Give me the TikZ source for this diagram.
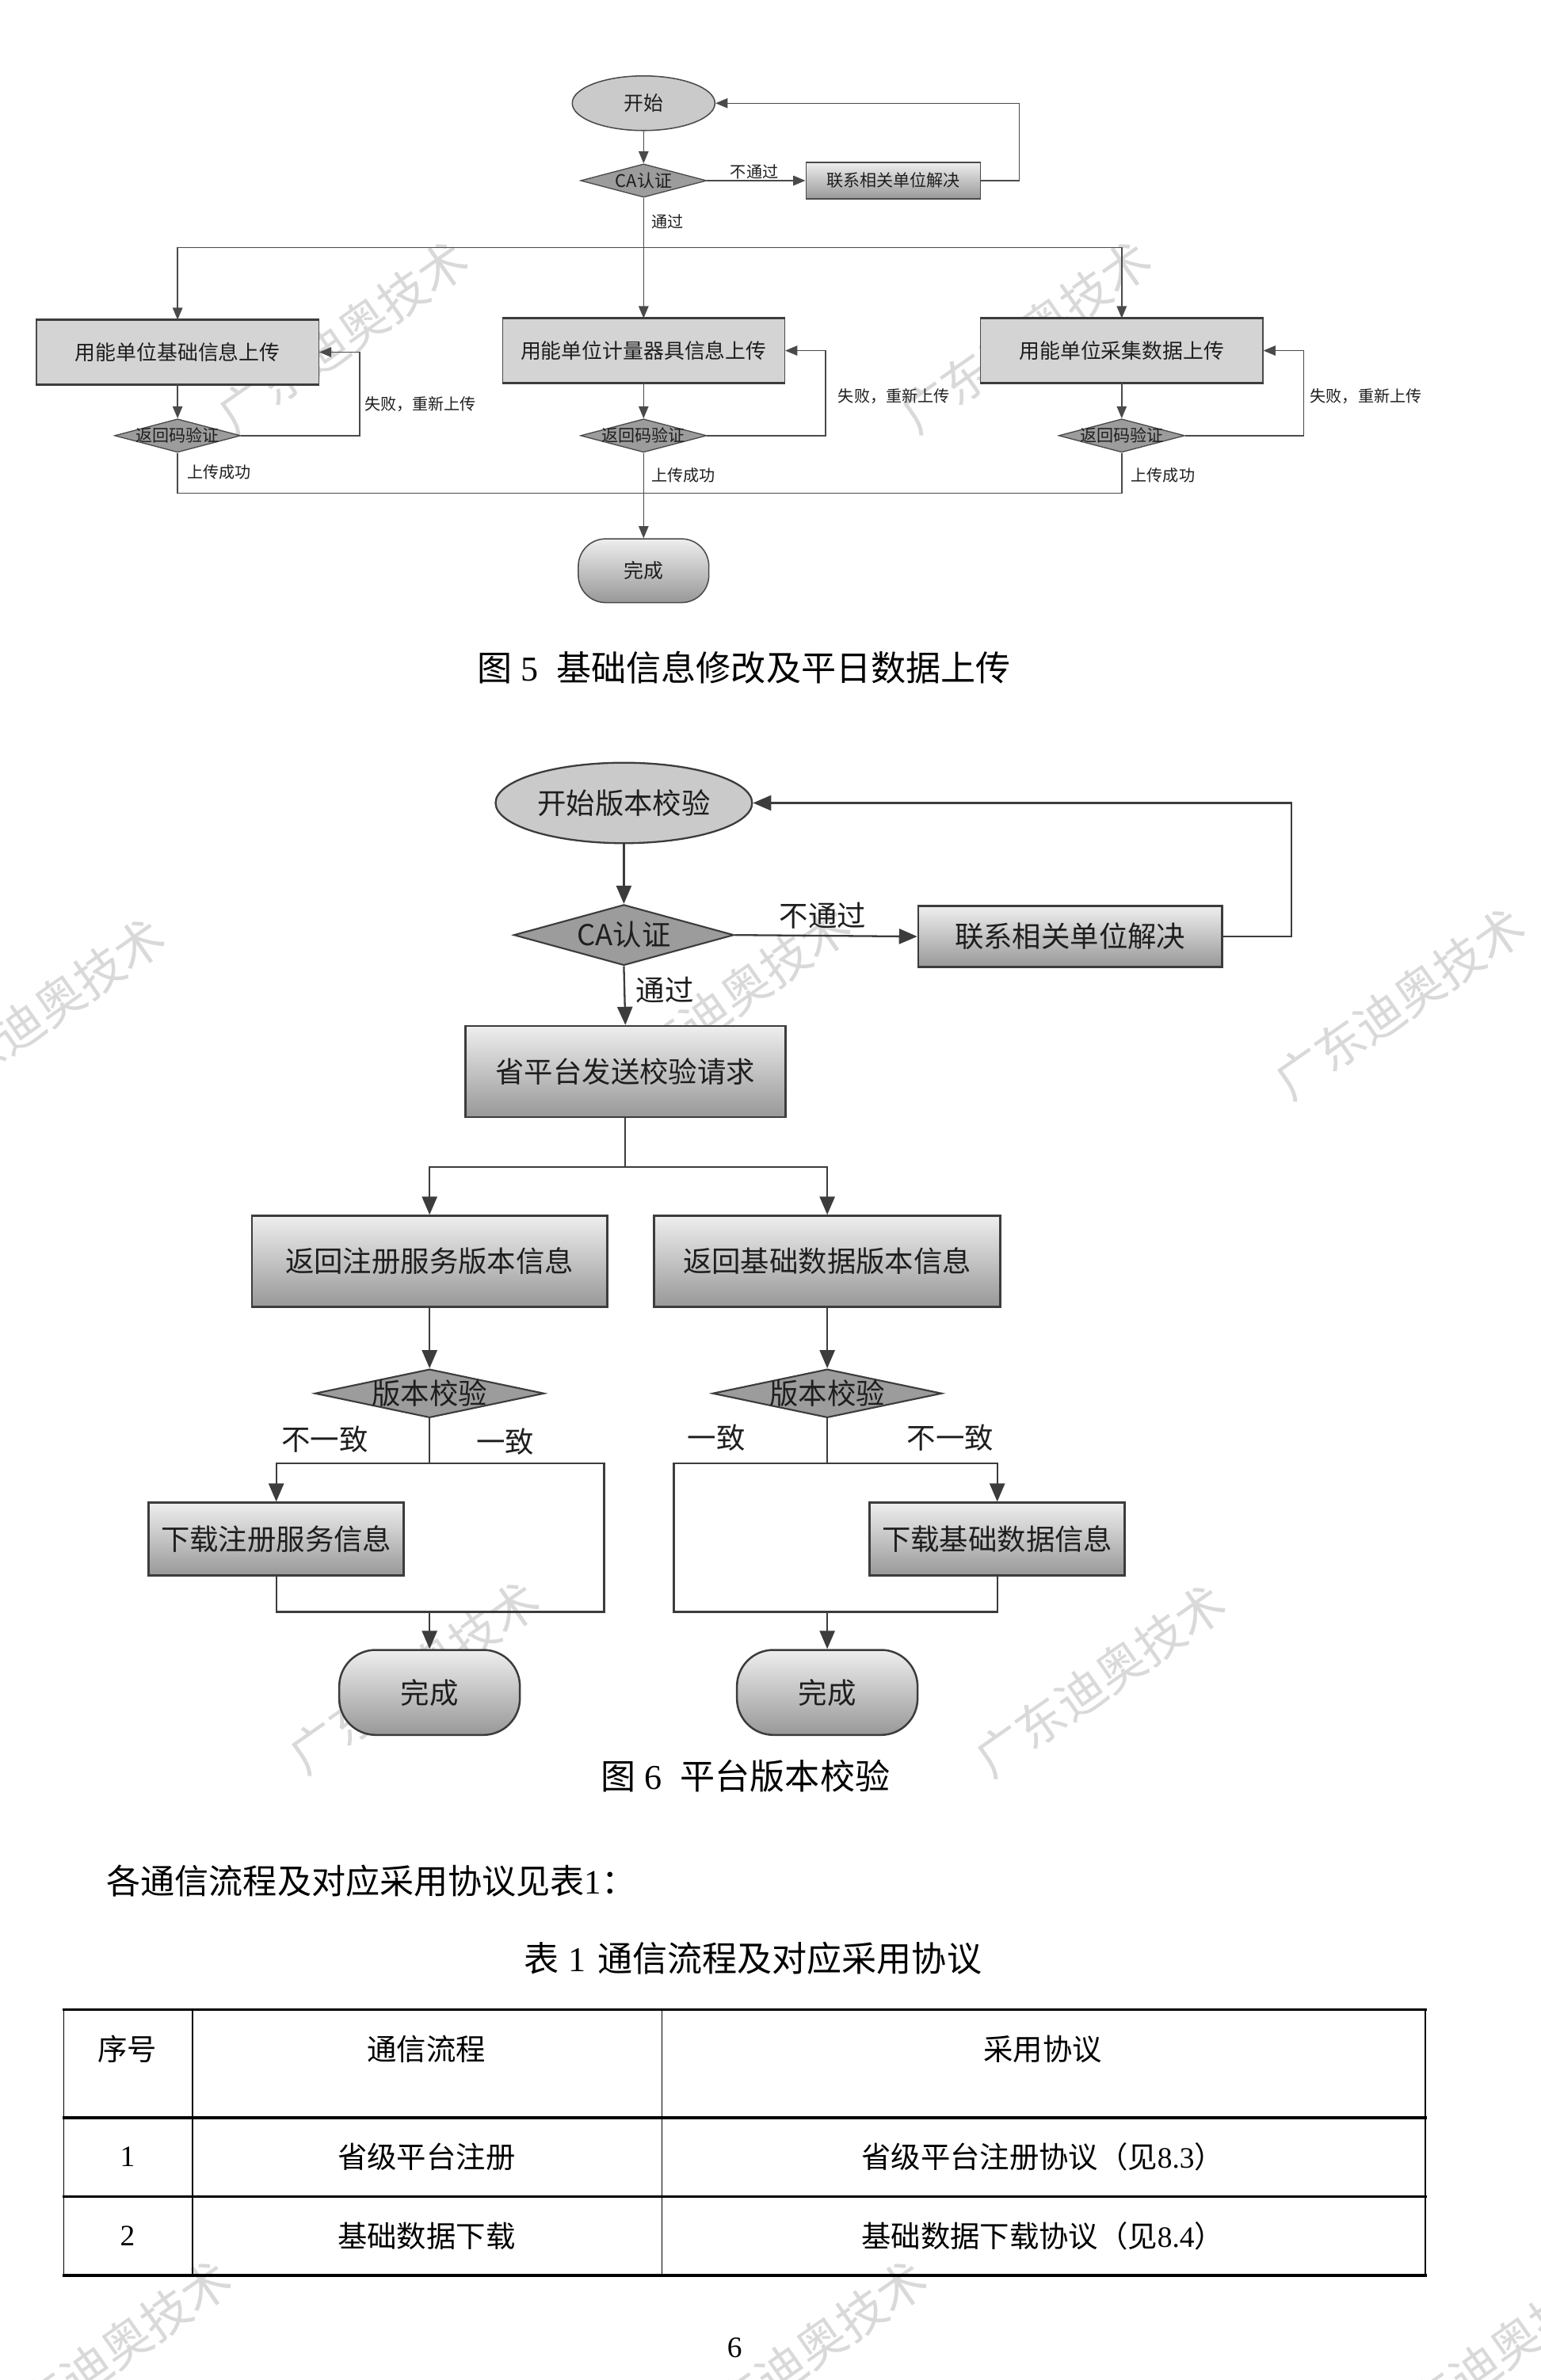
\documentclass[tikz,border=0pt]{standalone}
\usepackage{fontspec}
\setmainfont{Noto Sans CJK SC}
\newfontfamily\tms{Liberation Serif}
\usetikzlibrary{arrows.meta,shapes.geometric,shapes.misc}
\definecolor{lc}{HTML}{4A4A4A}
\definecolor{lc2}{HTML}{3C3C3C}
\definecolor{txt}{HTML}{1E1E1E}
\definecolor{boxtop}{HTML}{EEEEEE}
\definecolor{boxbot}{HTML}{989898}
\definecolor{diafill}{HTML}{9C9C9C}
\definecolor{ellfill}{HTML}{CACACA}
\definecolor{flatbox}{HTML}{D4D4D4}
\definecolor{wmc}{HTML}{D9D9D9}
\tikzset{
  a1/.style={draw=lc, line width=0.8pt, -{Triangle[length=8pt,width=6.5pt]}},
  l1/.style={draw=lc, line width=0.8pt},
  a2/.style={draw=lc2, line width=1.2pt, -{Triangle[length=12pt,width=10pt]}},
  l2/.style={draw=lc2, line width=1.2pt},
  t1/.style={text=txt, font=\fontsize{13.5}{15}\selectfont, inner sep=0pt},
  smalllbl/.style={text=txt, font=\fontsize{10.5}{12}\selectfont, inner sep=0pt},
  t2/.style={text=txt, font=\fontsize{19}{22}\selectfont, inner sep=0pt},
  ell1/.style={ellipse, draw=lc, line width=0.8pt, fill=ellfill, inner sep=0pt, minimum width=94pt, minimum height=36pt, text=txt, font=\fontsize{13}{15}\selectfont},
  dia1/.style={diamond, draw=lc, line width=0.7pt, fill=diafill, inner sep=0pt, minimum width=83pt, minimum height=22pt},
  fbox1/.style={rectangle, draw=lc, line width=0.6pt, fill=flatbox, inner sep=0pt, minimum width=186pt, minimum height=42pt, text=txt, font=\fontsize{13.5}{15}\selectfont},
  gbox1/.style={rectangle, draw=lc, line width=0.8pt, top color=boxtop, bottom color=boxbot, inner sep=0pt, text=txt, font=\fontsize{11}{13}\selectfont},
  term1/.style={rectangle, rounded corners=18pt, draw=lc, line width=0.8pt, top color=boxtop, bottom color=boxbot, inner sep=0pt, minimum width=86pt, minimum height=42pt, text=txt, font=\fontsize{13}{15}\selectfont},
  ell2/.style={ellipse, draw=lc2, line width=1.2pt, fill=ellfill, inner sep=0pt, minimum width=169pt, minimum height=53pt, text=txt, font=\fontsize{19}{22}\selectfont},
  dia2/.style={diamond, draw=lc2, line width=1.1pt, fill=diafill, inner sep=0pt},
  gbox2/.style={rectangle, draw=lc2, line width=1.4pt, top color=boxtop, bottom color=boxbot, inner sep=0pt, text=txt, font=\fontsize{19}{22}\selectfont},
  term2/.style={rectangle, rounded corners=24pt, draw=lc2, line width=1.3pt, top color=boxtop, bottom color=boxbot, inner sep=0pt, minimum width=119pt, minimum height=56pt, text=txt, font=\fontsize{19}{22}\selectfont},
  captxt/.style={text=black, font=\fontsize{23}{26}\selectfont, inner sep=0pt},
  bodytxt/.style={text=black, font=\fontsize{22.5}{26}\selectfont, inner sep=0pt},
  tbl/.style={text=black, font=\fontsize{19.5}{22}\selectfont, inner sep=0pt},
  wmk/.style={text=wmc, font=\fontsize{32}{34}\selectfont, inner sep=0pt, rotate=35},
}
\begin{document}
\begin{tikzpicture}[x=1pt,y=-1pt]
\useasboundingbox (0,0) rectangle (1015,1568);
\clip (0,0) rectangle (1015,1568);
\fill[white] (0,0) rectangle (1015,1568);

% ================= watermarks =================
\node[wmk] (w1) at (226,222) {广东迪奥技术};
\node[wmk] (w2) at (676,222) {广东迪奥技术};
\node[wmk] (w3) at (26,668) {广东迪奥技术};
\node[wmk] (w4) at (478,660) {广东迪奥技术};
\node[wmk] (w5) at (922,661) {广东迪奥技术};
\node[wmk] (w6) at (273,1105) {广东迪奥技术};
\node[wmk] (w7) at (725,1107) {广东迪奥技术};
\node[wmk] (w8) at (70,1552) {广东迪奥技术};
\node[wmk] (w9) at (528,1552) {广东迪奥技术};
\node[wmk] (w10) at (985,1552) {广东迪奥技术};

% ================= figure 5 =================
\node[ell1] (s1) at (424,68) {开始};
\node[dia1] (ca1) at (424,119) {};
\node[t1, font=\fontsize{11.5}{13}\selectfont] (ca1t) at (ca1) {CA认证};
\node[gbox1, minimum width=115pt, minimum height=24pt] (r1) at (588.5,119) {联系相关单位解决};

\node[fbox1] (b1) at (117,232) {用能单位基础信息上传};
\node[fbox1] (b2) at (424,231) {用能单位计量器具信息上传};
\node[fbox1] (b3) at (739,231) {用能单位采集数据上传};
\foreach \b in {b1,b2,b3}{
  \draw[draw=lc2, line width=1.8pt] (\b.north west) -- (\b.north east);
  \draw[draw=lc2, line width=1.8pt] (\b.south west) -- (\b.south east);
}
\node[dia1] (d1) at (117,287) {};
\node[dia1] (d2) at (424,287) {};
\node[dia1] (d3) at (739,287) {};
\node[t1, font=\fontsize{11}{13}\selectfont] (d1t) at (d1) {返回码验证};
\node[t1, font=\fontsize{11}{13}\selectfont] (d2t) at (d2) {返回码验证};
\node[t1, font=\fontsize{11}{13}\selectfont] (d3t) at (d3) {返回码验证};
\node[term1] (f1) at (424,376) {完成};

\draw[a1] (s1.south) -- (ca1.north);
\draw[a1] (ca1.east) -- (r1.west);
\node[smalllbl] (lb1) at (497,113) {不通过};
\draw[a1] (r1.east) -- ++(25,0) |- (s1.east);
\coordinate (h1) at (424,163);
\draw[l1] (ca1.south) -- (h1);
\node[smalllbl, anchor=west] (lb2) at (429,146) {通过};
\draw[a1] (h1) -| (b1.north);
\draw[a1] (h1) -| (b3.north);
\draw[a1] (h1) -- (b2.north);
\draw[a1] (b1.south) -- (d1.north);
\draw[a1] (b2.south) -- (d2.north);
\draw[a1] (b3.south) -- (d3.north);
\draw[a1] (d1.east) -- ++(78,0) |- (b1.east);
\draw[a1] (d2.east) -- ++(78,0) |- (b2.east);
\draw[a1] (d3.east) -- ++(78,0) |- (b3.east);
\node[smalllbl, anchor=west] (lf1) at (240,266) {失败，重新上传};
\node[smalllbl, anchor=west] (lf2) at (552,261) {失败，重新上传};
\node[smalllbl, anchor=west] (lf3) at (863,261) {失败，重新上传};
\coordinate (h2) at (424,325);
\draw[l1] (d1.south) |- (h2);
\draw[l1] (d3.south) |- (h2);
\draw[a1] (d2.south) -- (f1.north);
\node[smalllbl, anchor=west] (ls1) at (123,311) {上传成功};
\node[smalllbl, anchor=west] (ls2) at (429,313) {上传成功};
\node[smalllbl, anchor=west] (ls3) at (745,313) {上传成功};

\node[captxt] (cap5) at (490,440) {图\hspace{6pt}{\tms 5}\hspace{12pt}基础信息修改及平日数据上传};

% ================= figure 6 =================
\node[ell2] (s2) at (411,529) {开始版本校验};
\node[dia2, minimum width=145pt, minimum height=40pt] (ca2) at (411,616) {};
\node[t2] (ca2t) at (ca2) {CA认证};
\node[gbox2, minimum width=200pt, minimum height=40pt] (r2) at (705,617) {联系相关单位解决};
\node[gbox2, minimum width=211pt, minimum height=60pt] (p2) at (412,706) {省平台发送校验请求};
\node[gbox2, minimum width=234pt, minimum height=60pt] (v1) at (283,831) {返回注册服务版本信息};
\node[gbox2, minimum width=228pt, minimum height=60pt] (v2) at (545,831) {返回基础数据版本信息};
\node[dia2, minimum width=151pt, minimum height=32pt] (k1) at (283,918) {};
\node[dia2, minimum width=151pt, minimum height=32pt] (k2) at (545,918) {};
\node[t2] (k1t) at (k1) {版本校验};
\node[t2] (k2t) at (k2) {版本校验};
\node[gbox2, minimum width=168pt, minimum height=48pt] (dl) at (182,1014) {下载注册服务信息};
\node[gbox2, minimum width=168pt, minimum height=48pt] (dr) at (657,1014) {下载基础数据信息};
\node[term2] (e1) at (283,1115) {完成};
\node[term2] (e2) at (545,1115) {完成};

\draw[a2] (s2.south) -- (ca2.north);
\draw[a2] (ca2.east) -- (r2.west);
\node[t2] (lb3) at (542,603) {不通过};
\draw[a2] (r2.east) -- ++(45,0) |- (s2.east);
\draw[a2] (ca2.south) -- (p2.north);
\node[t2] (lb4) at (438,652) {通过};
\coordinate (h3) at (412,769);
\draw[l2] (p2.south) -- (h3);
\draw[a2] (h3) -| (v1.north);
\draw[a2] (h3) -| (v2.north);
\draw[a2] (v1.south) -- (k1.north);
\draw[a2] (v2.south) -- (k2.north);
% left branch
\coordinate (h4) at (283,964);
\coordinate (h5) at (283,1062);
\draw[l2] (k1.south) -- (h4);
\draw[a2] (h4) -| (dl.north);
\draw[l2] (h4) -- (398,964) |- (h5);
\draw[l2] (dl.south) |- (h5);
\draw[a2] (h5) -- (e1.north);
\node[t2] (ln1) at (214,948) {不一致};
\node[t2] (ly1) at (333,950) {一致};
% right branch
\coordinate (h6) at (545,964);
\coordinate (h7) at (545,1062);
\draw[l2] (k2.south) -- (h6);
\draw[a2] (h6) -| (dr.north);
\draw[l2] (h6) -- (444,964) |- (h7);
\draw[l2] (dr.south) |- (h7);
\draw[a2] (h7) -- (e2.north);
\node[t2] (ly2) at (472,947) {一致};
\node[t2] (ln2) at (626,947) {不一致};

\node[captxt] (cap6) at (491,1170) {图\hspace{6pt}{\tms 6}\hspace{12pt}平台版本校验};

% ================= text and table =================
\node[bodytxt, anchor=west] (para) at (70,1239) {各通信流程及对应采用协议见表{\tms 1}：};
\node[captxt] (cap1) at (496,1290) {表\hspace{6pt}{\tms 1}\hspace{8pt}通信流程及对应采用协议};

\draw[black, line width=0.9pt] (42,1324) -- (42,1499);
\draw[black, line width=0.9pt] (127,1324) -- (127,1499);
\draw[black, line width=0.6pt] (436,1324) -- (436,1499);
\draw[black, line width=0.9pt] (939,1324) -- (939,1499);
\draw[black, line width=2pt] (41,1324) -- (940,1324);
\draw[black, line width=2pt] (41,1395) -- (940,1395);
\draw[black, line width=1.6pt] (41,1447) -- (940,1447);
\draw[black, line width=2pt] (41,1499) -- (940,1499);

\node[tbl] (th1) at (84,1350) {序号};
\node[tbl] (th2) at (281,1350) {通信流程};
\node[tbl] (th3) at (687,1350) {采用协议};
\node[tbl] (c11) at (84,1421) {\tms 1};
\node[tbl] (c12) at (281,1421) {省级平台注册};
\node[tbl] (c13) at (687,1421) {省级平台注册协议（见{\tms 8.3}）};
\node[tbl] (c21) at (84,1473) {\tms 2};
\node[tbl] (c22) at (281,1473) {基础数据下载};
\node[tbl] (c23) at (687,1473) {基础数据下载协议（见{\tms 8.4}）};

\node[tbl] (pg) at (484,1547) {\tms 6};
\end{tikzpicture}
\end{document}
